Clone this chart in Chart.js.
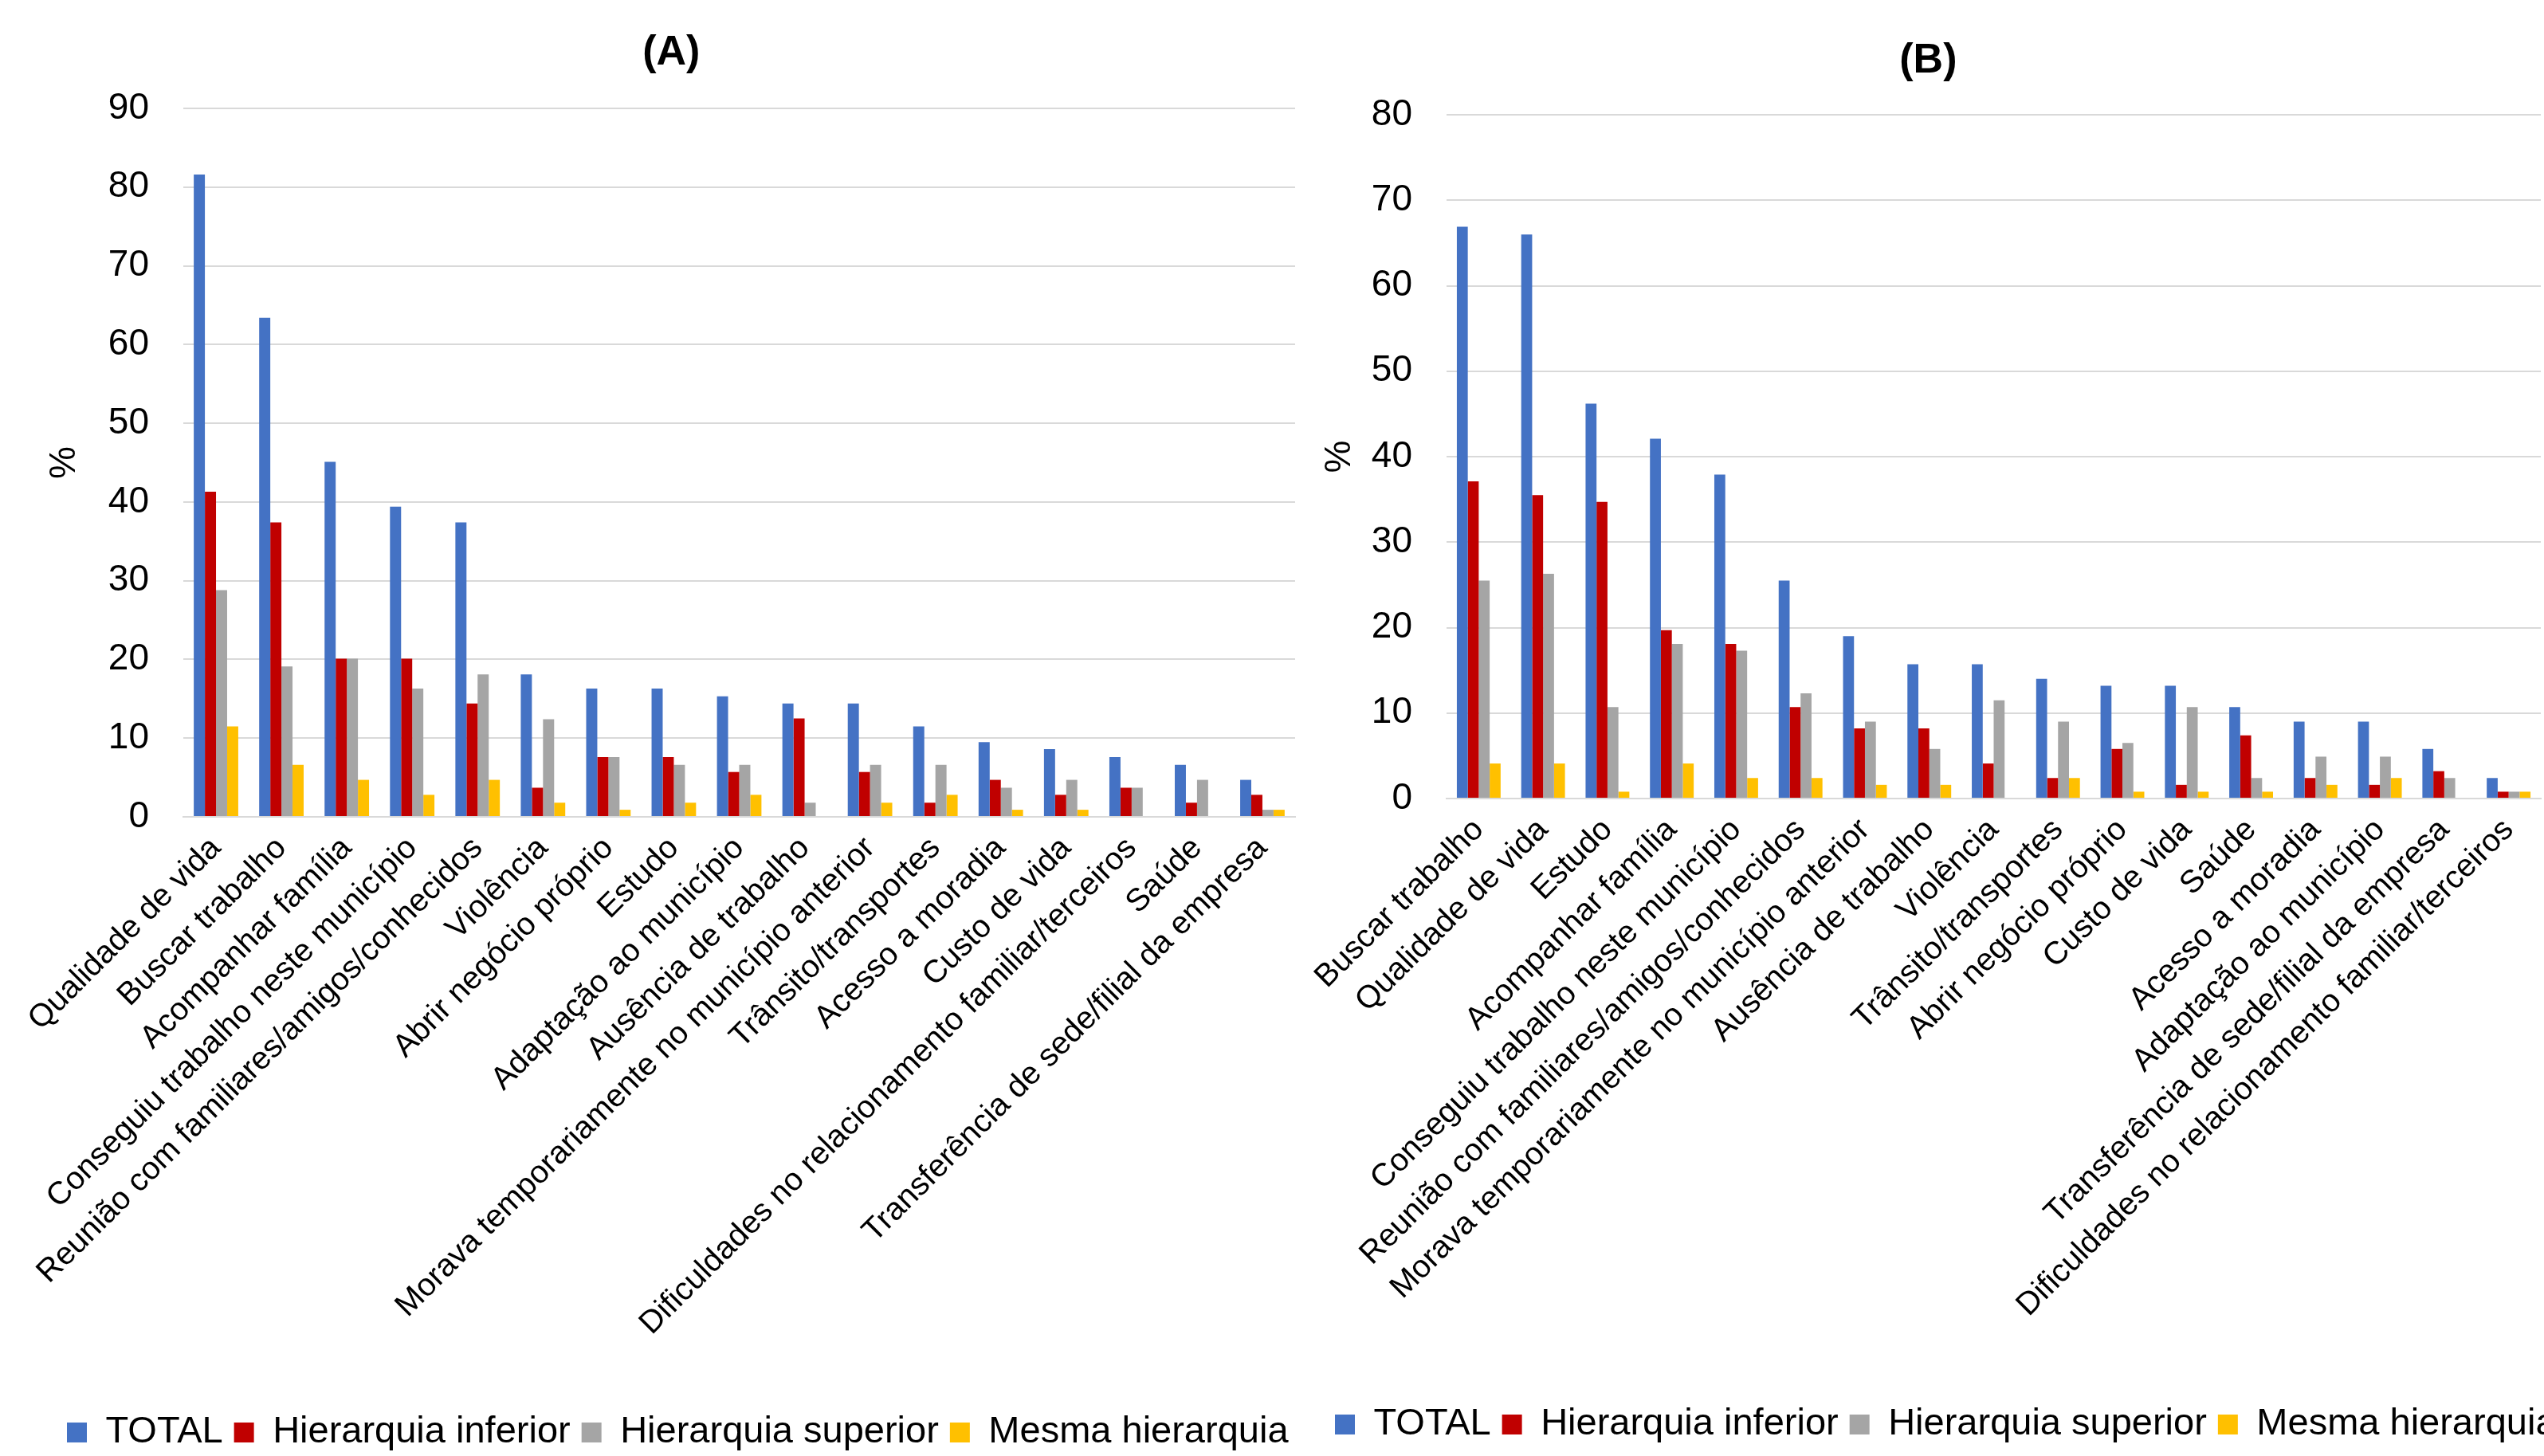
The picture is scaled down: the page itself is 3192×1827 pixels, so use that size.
<!DOCTYPE html>
<html><head><meta charset="utf-8">
<script src="https://cdn.jsdelivr.net/npm/chart.js@4.4.1/dist/chart.umd.min.js"></script>
<style>
html,body{margin:0;padding:0;background:#fff;overflow:hidden;width:3192px;height:1827px;}
canvas{position:absolute;top:0;}
#cA{left:0px;}
#cB{left:1640px;}
</style></head><body>
<canvas id="cA" width="1658" height="1831" style="width:1658px;height:1831px"></canvas>
<canvas id="cB" width="1610" height="1821" style="width:1610px;height:1821px"></canvas>
<script>
const seriesNames = ["TOTAL", "Hierarquia inferior", "Hierarquia superior", "Mesma hierarquia"];
const seriesColors = ["#4472C4", "#C00000", "#A5A5A5", "#FFC000"];

// Panel (A)
const catsA = ["Qualidade de vida", "Buscar trabalho", "Acompanhar família", "Conseguiu trabalho neste município",
  "Reunião com familiares/amigos/conhecidos", "Violência", "Abrir negócio próprio", "Estudo", "Adaptação ao município",
  "Ausência de trabalho", "Morava temporariamente no município anterior", "Trânsito/transportes", "Acesso a moradia",
  "Custo de vida", "Dificuldades no relacionamento familiar/terceiros", "Saúde", "Transferência de sede/filial da empresa"];
const totalA    = [81.6, 63.4, 45.1, 39.4, 37.4, 18.1, 16.3, 16.3, 15.3, 14.4, 14.4, 11.5, 9.5, 8.6, 7.6, 6.6, 4.7];
const inferiorA = [41.3, 37.4, 20.1, 20.1, 14.4, 3.7, 7.6, 7.6, 5.7, 12.5, 5.7, 1.8, 4.7, 2.8, 3.7, 1.8, 2.8];
const superiorA = [28.8, 19.1, 20.1, 16.3, 18.1, 12.4, 7.6, 6.6, 6.6, 1.8, 6.6, 6.6, 3.7, 4.7, 3.7, 4.7, 0.9];
const mesmaA    = [11.5, 6.6, 4.7, 2.8, 4.7, 1.8, 0.9, 1.8, 2.8, 0, 1.8, 2.8, 0.9, 0.9, 0, 0, 0.9];
const ticksA = [0, 10, 20, 30, 40, 50, 60, 70, 80, 90];

// Panel (B)
const catsB = ["Buscar trabalho", "Qualidade de vida", "Estudo", "Acompanhar família", "Conseguiu trabalho neste município",
  "Reunião com familiares/amigos/conhecidos", "Morava temporariamente no município anterior", "Ausência de trabalho",
  "Violência", "Trânsito/transportes", "Abrir negócio próprio", "Custo de vida", "Saúde", "Acesso a moradia",
  "Adaptação ao município", "Transferência de sede/filial da empresa", "Dificuldades no relacionamento familiar/terceiros"];
const totalB    = [66.9, 66.0, 46.2, 42.1, 37.9, 25.5, 19.0, 15.7, 15.7, 14.0, 13.2, 13.2, 10.7, 9.0, 9.0, 5.8, 2.4];
const inferiorB = [37.1, 35.5, 34.7, 19.7, 18.1, 10.7, 8.2, 8.2, 4.1, 2.4, 5.8, 1.6, 7.4, 2.4, 1.6, 3.2, 0.8];
const superiorB = [25.5, 26.3, 10.7, 18.1, 17.3, 12.3, 9.0, 5.8, 11.5, 9.0, 6.5, 10.7, 2.4, 4.9, 4.9, 2.4, 0.8];
const mesmaB    = [4.1, 4.1, 0.8, 4.1, 2.4, 2.4, 1.6, 1.6, 0, 2.4, 0.8, 0.8, 0.8, 1.6, 2.4, 0, 0.8];
const ticksB = [0, 10, 20, 30, 40, 50, 60, 70, 80];

Chart.defaults.font.family = "'Liberation Sans', Arial, sans-serif";
Chart.defaults.color = "#000";

function makeChart(id, title, cats, data4, tickVals, g) {
  const datasets = data4.map((d, i) => ({
    label: seriesNames[i], data: d, backgroundColor: seriesColors[i], borderWidth: 0,
    categoryPercentage: 0.68, barPercentage: 1.0
  }));
  return new Chart(document.getElementById(id), {
    type: 'bar',
    data: { labels: cats, datasets },
    options: {
      responsive: false, animation: false, devicePixelRatio: 1,
      layout: { padding: { left: g.padLeft, right: 0, top: 0, bottom: 0 } },
      plugins: {
        tooltip: { enabled: false },
        title: { display: true, text: title, font: { size: 52, weight: 'bold', lineHeight: 1.2 }, color: '#000',
                 padding: { top: g.titleTop, bottom: g.titleBottom } },
        legend: { position: 'bottom', align: 'start',
          labels: { boxWidth: 25, boxHeight: 25, padding: 14, font: { size: 47 }, color: '#000' } }
      },
      scales: {
        x: {
          grid: { display: false },
          border: { display: true, color: '#D9D9D9', width: 2 },
          ticks: { autoSkip: false, minRotation: 45, maxRotation: 45, padding: g.xPad, font: { size: 40 }, color: '#000' },
          afterFit: s => { s.height = g.xHeight; s.paddingLeft = 0; s.paddingRight = 0; }
        },
        y: {
          min: 0, max: tickVals[tickVals.length - 1],
          afterBuildTicks: s => { s.ticks = tickVals.map(v => ({ value: v })); },
          grid: { color: '#D9D9D9', lineWidth: 2, drawTicks: false },
          border: { display: false },
          ticks: { padding: 43, font: { size: 46 }, color: '#000' },
          title: { display: true, text: '%', font: { size: 46, lineHeight: g.pctLH }, padding: 0, color: '#000' },
          afterFit: s => { s.width = g.yWidth; }
        },
        yR: {
          position: 'right', display: true,
          grid: { display: false }, border: { display: false }, ticks: { display: false },
          afterFit: s => { s.width = g.rWidth; }
        }
      }
    }
  });
}

makeChart('cA', '(A)   ', catsA, [totalA, inferiorA, superiorA, mesmaA], ticksA,
  { padLeft: 70, yWidth: 160, rWidth: 33, xHeight: 735, titleTop: 35.8, titleBottom: 37.8, xPad: 8, pctLH: 0.48 });
makeChart('cB', '(B)     ', catsB, [totalB, inferiorB, superiorB, mesmaB], ticksB,
  { padLeft: 21, yWidth: 154, rWidth: 62, xHeight: 748, titleTop: 45.8, titleBottom: 35.8, xPad: 8, pctLH: 0.87 });
</script>
</body></html>
